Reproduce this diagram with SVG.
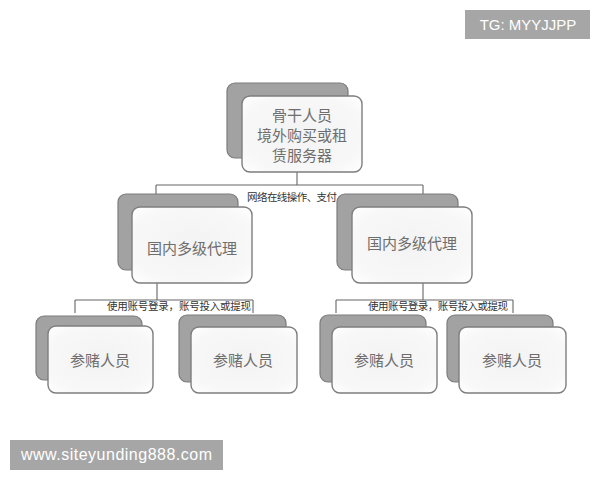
<svg xmlns="http://www.w3.org/2000/svg" width="600" height="480" viewBox="0 0 600 480">
<style>
.back{fill:#a2a2a2;stroke:#7c7c7c;stroke-width:1.2}
.front{fill:url(#fg);stroke:#7e7e7e;stroke-width:1.4}
.t{font-family:"Noto Sans CJK SC","Liberation Sans",sans-serif;fill:#6e6e6e;text-anchor:middle}
.big{font-size:15px}
.lbl{font-family:"Noto Sans CJK SC","Liberation Sans",sans-serif;font-size:10.5px;fill:#333}
.ln{stroke:#666;stroke-width:1.1;fill:none}
.wm{fill:#a6a6a6}
.wt{font-family:"Liberation Sans",Arial,sans-serif;fill:#fff}
</style>
<defs>
<radialGradient id="fg" cx="0.5" cy="0.5" r="0.7">
<stop offset="0" stop-color="#f3f3f3"/>
<stop offset="0.75" stop-color="#f8f8f8"/>
<stop offset="1" stop-color="#ffffff"/>
</radialGradient>
</defs>
<rect width="600" height="480" fill="#ffffff"/>
<g id="connectors">
<path class="ln" d="M297 172V185M156 185H423M156 185V194M423 185V194"/>
<path class="ln" d="M157 283V300M75 300H253M75 300V313M253 300V313"/>
<path class="ln" d="M423 283V300M336 300H513M336 300V313M513 300V313"/>
<text class="lbl" x="247" y="201" textLength="90">网络在线操作、支付</text>
<text class="lbl" x="107" y="310" textLength="144">使用账号登录，账号投入或提现</text>
<text class="lbl" x="368" y="310" textLength="140">使用账号登录，账号投入或提现</text>
</g>
<g id="top">
<rect class="back" x="227" y="83" width="121" height="75" rx="8"/>
<rect class="front" x="242" y="96" width="120" height="76" rx="8"/>
<text class="t" font-size="15" x="302" y="121">骨干人员</text>
<text class="t" font-size="15" x="302" y="141">境外购买或租</text>
<text class="t" font-size="15" x="302" y="161">赁服务器</text>
</g>
<g id="mid-left">
<rect class="back" x="118" y="194" width="120" height="76" rx="8"/>
<rect class="front" x="132" y="207" width="120" height="76" rx="8"/>
<text class="t big" x="192" y="254">国内多级代理</text>
</g>
<g id="mid-right">
<rect class="back" x="337" y="194" width="121" height="76" rx="8"/>
<rect class="front" x="352" y="207" width="120" height="76" rx="8"/>
<text class="t big" x="412" y="249">国内多级代理</text>
</g>
<g id="p1">
<rect class="back" x="36" y="316" width="106" height="64" rx="8"/>
<rect class="front" x="48" y="326" width="105" height="67" rx="8"/>
<text class="t big" x="100" y="366">参赌人员</text>
</g>
<g id="p2">
<rect class="back" x="179" y="315" width="107" height="67" rx="8"/>
<rect class="front" x="191" y="327" width="106" height="66" rx="8"/>
<text class="t big" x="243" y="366">参赌人员</text>
</g>
<g id="p3">
<rect class="back" x="320" y="315" width="106" height="67" rx="8"/>
<rect class="front" x="332" y="327" width="105" height="66" rx="8"/>
<text class="t big" x="384" y="366">参赌人员</text>
</g>
<g id="p4">
<rect class="back" x="447" y="315" width="106" height="67" rx="8"/>
<rect class="front" x="459" y="327" width="107" height="66" rx="8"/>
<text class="t big" x="512" y="366">参赌人员</text>
</g>
<g id="watermarks">
<rect class="wm" x="465" y="10" width="125" height="29"/>
<text class="wt" x="528" y="30" font-size="15" text-anchor="middle">TG: MYYJJPP</text>
<rect class="wm" x="10" y="440" width="213" height="30"/>
<text class="wt" x="21" y="460" font-size="16" textLength="191">www.siteyunding888.com</text>
</g>
</svg>
